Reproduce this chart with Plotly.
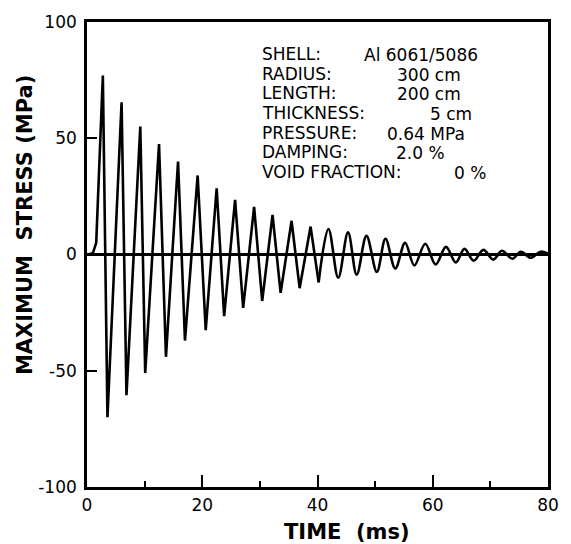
import plotly.graph_objects as go
import numpy as np

# ---- data ----
time_ms = [0, 1.0, 1.6, 2.75, 3.55, 6.0, 6.85, 9.25, 10.1, 12.5, 13.7, 15.8, 17.0,
           19.2, 20.6, 22.5, 23.8, 25.7, 27.1, 29.0, 30.4, 32.2, 33.6, 35.5, 36.9,
           38.8, 40.2, 41.9, 43.6, 45.3, 46.8, 48.5, 50.3, 51.8, 53.5, 55.2, 56.8,
           58.7, 60.5, 62.3, 64.0, 65.5, 67.1, 68.8, 70.5, 72.0, 73.8, 75.3, 77.0,
           78.7, 80.0]
stress_mpa = [0, 0.5, 5, 77, -70, 65.5, -60.5, 55, -51, 47.5, -44, 40, -37,
              34, -32.5, 28.5, -26.5, 23.5, -23, 20.5, -20, 17, -16.5, 14.5, -14.5,
              12, -12, 11, -10, 9.5, -8.7, 8, -7.5, 6.7, -6, 5, -4.7,
              4.6, -4.3, 3.3, -3.4, 2.4, -2.7, 2, -2.2, 1.6, -1.8, 1.2, -1.4,
              1.2, 0.3]
SMOOTH_FROM_MS = 40.2

y_tickvals = [-100, -50, 0, 50, 100]
y_ticktext = ["-100", "-50", "0", "50", "100"]
x_tickvals = [0, 20, 40, 60, 80]

info_labels = ["SHELL:", "RADIUS:", "LENGTH:", "THICKNESS:", "PRESSURE:", "DAMPING:", "VOID FRACTION:"]
info_values = ["Al 6061/5086", "300 cm", "200 cm", "5 cm", "0.64 MPa", "2.0 %", "0 %"]

# ---- layout geometry (pixels) ----
W, H = 571, 544
L, R, T, B = 87, 17, 18, 57
PW, PH = W - L - R, H - T - B

def px_x(px):
    return (px - L) / PW

def px_y(py):
    return 1 - (py - T) / PH

t = np.array(time_ms)
s = np.array(stress_mpa)
early = t <= SMOOTH_FROM_MS
late = t >= SMOOTH_FROM_MS

fig = go.Figure()
fig.add_trace(go.Scatter(x=t[early], y=s[early], mode="lines",
                         line=dict(color="black", width=2.6), showlegend=False))
fig.add_trace(go.Scatter(x=t[late], y=s[late], mode="lines",
                         line=dict(color="black", width=2.6, shape="spline", smoothing=1.0),
                         showlegend=False))

font = "DejaVu Sans"
label_y = [50, 70, 90, 110, 130, 149, 169]
value_x = [366, 399, 399, 432, 389, 398, 457]
ann = []
for lab, val, yy, vx in zip(info_labels, info_values, label_y, value_x):
    ann.append(dict(x=px_x(262), y=px_y(yy), xref="paper", yref="paper", text=lab,
                    showarrow=False, xanchor="left", yanchor="middle",
                    font=dict(family=font, size=17, color="black")))
    ann.append(dict(x=px_x(vx), y=px_y(yy + 1), xref="paper", yref="paper", text=val,
                    showarrow=False, xanchor="left", yanchor="middle",
                    font=dict(family=font, size=17, color="black")))

ann.append(dict(x=px_x(24), y=px_y(223), xref="paper", yref="paper",
                text="MAXIMUM  STRESS (MPa)", textangle=-90, showarrow=False,
                xanchor="center", yanchor="middle",
                font=dict(family=font, size=21, color="black", weight="bold")))
ann.append(dict(x=px_x(350), y=px_y(532), xref="paper", yref="paper",
                text="TIME  (ms)", showarrow=False, xanchor="center", yanchor="middle",
                font=dict(family=font, size=21, color="black", weight="bold")))

fig.update_layout(
    width=W, height=H,
    margin=dict(l=L, r=R, t=T, b=B),
    paper_bgcolor="white", plot_bgcolor="white",
    annotations=ann,
    xaxis=dict(range=[0, 80], tickvals=x_tickvals, ticks="inside", ticklen=12,
               tickwidth=2, tickcolor="black", showline=True, linecolor="black",
               linewidth=2.6, mirror=True, showgrid=False, zeroline=False,
               ticklabelstandoff=1,
               tickfont=dict(family=font, size=17, color="black")),
    yaxis=dict(range=[-100, 100], tickvals=y_tickvals, ticktext=y_ticktext,
               ticks="inside", ticklen=10, tickwidth=2, tickcolor="black",
               showline=True, linecolor="black", linewidth=2.6, mirror=True,
               showgrid=False, zeroline=True, zerolinecolor="black", zerolinewidth=2.6,
               ticklabelstandoff=4,
               tickfont=dict(family=font, size=17, color="black")),
)
fig.update_xaxes(minor=dict(dtick=10, ticks="inside", ticklen=6, tickwidth=2,
                            tickcolor="black", showgrid=False))

fig.write_html("out.html")
